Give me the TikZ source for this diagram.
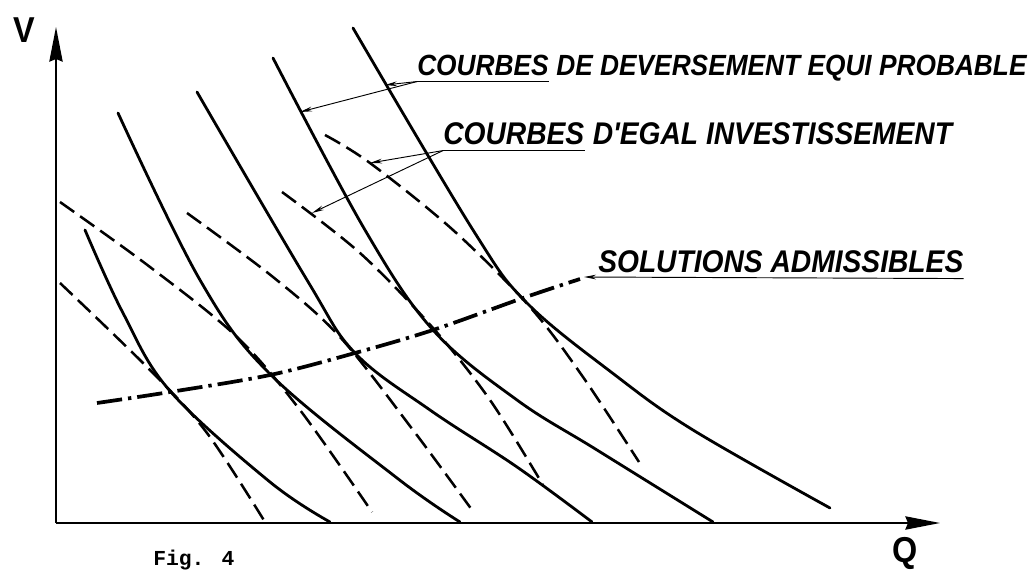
\documentclass[tikz,border=0pt]{standalone}
\usepackage{xcolor}
\usepackage{fontspec}
\usetikzlibrary{arrows.meta,positioning}
\newfontfamily\letterfont{Liberation Sans}[FakeStretch=0.9]
\newfontfamily\fignumfont{Liberation Mono}

\tikzset{
  spill/.style={line width=2.1pt, line cap=round},
  invest/.style={line width=1.9pt, dash pattern=on 13pt off 5.5pt},
  admissible/.style={line width=2.8pt, dash pattern=on 19pt off 4.5pt on 2.5pt off 4.5pt},
  axisline/.style={line width=1.2pt, -{Stealth[length=26pt,width=10pt,inset=2pt]}},
  pointer/.style={line width=0.7pt, -{Stealth[length=9pt,width=3.5pt]}},
  lettering/.style={inner xsep=0pt, inner ysep=4.5pt, font=\letterfont\bfseries\itshape\fontsize{#1}{#1}\selectfont},
  axislabel/.style={inner sep=0pt, font=\letterfont\bfseries\fontsize{27}{27}\selectfont},
}

\begin{document}
\begin{tikzpicture}[x=0.75pt,y=0.75pt,yscale=-1,xscale=1]
\useasboundingbox (0,0) rectangle (1033,571);

%Axes
\coordinate (origin) at (56,523);
\coordinate (vTop) at (56,27);
\coordinate (qEnd) at (940,523);
\draw[axisline] (origin) -- (vTop);
\draw[axisline] (origin) -- (qEnd);

%Curves: equal spill probability
\draw[spill] plot[smooth, tension=0.6] coordinates {(85,230) (123,313) (170,391) (270,482) (330,522)};
\draw[spill] plot[smooth, tension=0.6] coordinates {(118,113) (200,280) (270,374) (397,478) (460,522)};
\draw[spill] plot[smooth, tension=0.6] coordinates {(197,92) (307,280) (355,353) (430,410) (517,467) (592,522)};
\draw[spill] plot[smooth, tension=0.6] coordinates {(273,58) (365,230) (433,330) (517,400) (597,450) (713,522)};
\draw[spill] plot[smooth, tension=0.6] coordinates {(353,28) (473,230) (527,303) (615,375) (693,430) (830,508)};

%Curves: equal investment
\draw[invest] plot[smooth, tension=0.55] coordinates {(60,283) (150,370) (207,433) (265,522)};
\draw[invest] plot[smooth, tension=0.55] coordinates {(60,202) (150,267) (237,337) (300,410) (372,512)};
\draw[invest] plot[smooth, tension=0.55] coordinates {(187,213) (273,277) (340,337) (413,430) (472,510)};
\draw[invest] plot[smooth, tension=0.55] coordinates {(282,192) (360,253) (433,328) (490,400) (543,485)};
\draw[invest] plot[smooth, tension=0.55] coordinates {(325,135) (370,163) (453,230) (530,307) (583,377) (639,462)};

%Curve: admissible solutions
\draw[admissible] plot[smooth, tension=0.55] coordinates {(97,403) (170,392) (270,375) (355,353) (433,330) (523,298) (580,279)};

%Pointer ends
\coordinate (spillTipA) at (300,112);
\coordinate (spillTipB) at (385,85);
\coordinate (investTipA) at (370,163);
\coordinate (investTipB) at (312,213);
\coordinate (admTip) at (584,277);

% Text Node
\node[lettering=21.9, anchor=base west] (courbesSpill) at (417,75) {COURBES};
\node[lettering=21.9, base right=5.4pt of courbesSpill] (spillRest) {DE DEVERSEMENT EQUI PROBABLE};
% Text Node
\node[lettering=23.5, anchor=base west] (courbesInvest) at (443,144) {COURBES};
\node[lettering=23.5, base right=6pt of courbesInvest] (investRest) {D'EGAL INVESTISSEMENT};
% Text Node
\node[lettering=23.5, anchor=base west] (solutions) at (598,272) {SOLUTIONS ADMISSIBLES};

%Underlines and pointers
\draw[line width=0.9pt] (courbesSpill.south west) -- (courbesSpill.south east);
\draw[pointer] (courbesSpill.south west) -- (spillTipA);
\draw[pointer] (courbesSpill.south west) -- (spillTipB);
\draw[line width=0.9pt] (courbesInvest.south west) -- (courbesInvest.south east);
\draw[pointer] (courbesInvest.south west) -- (investTipA);
\draw[pointer] (courbesInvest.south west) -- (investTipB);
\draw[pointer] (solutions.south east) -- (admTip);

% Text Node
\node[axislabel] (vLabel) at (24,30) {V};
\node[axislabel] (qLabel) at (905,553) {Q};
\node[inner sep=0pt, anchor=base west, font=\fignumfont\bfseries\fontsize{16}{16}\selectfont] (figLabel) at (153,565) {Fig. 4};

\end{tikzpicture}
\end{document}
